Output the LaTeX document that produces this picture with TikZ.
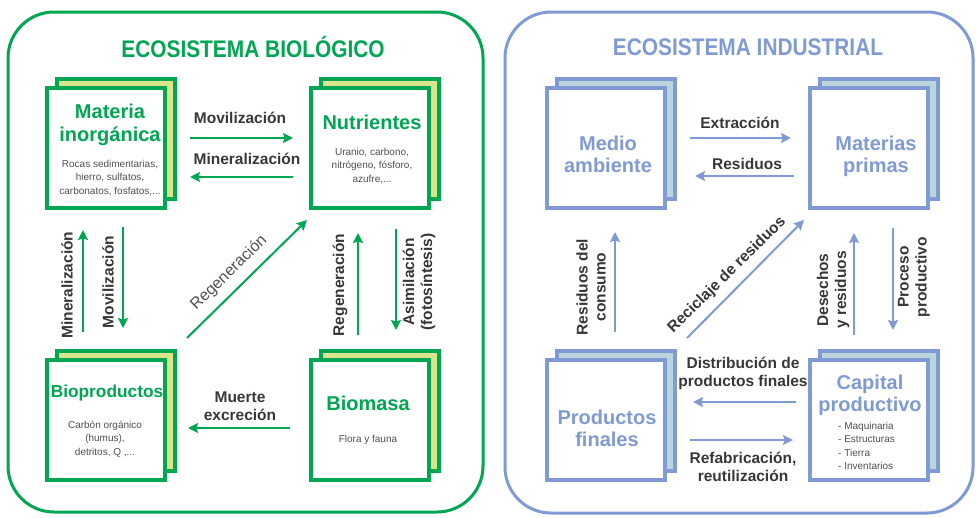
\documentclass[tikz,border=0pt]{standalone}
\usepackage{fontspec}
\setmainfont{Liberation Sans}
\newfontfamily\titlefont{Liberation Sans}[FakeStretch=0.87]
\usetikzlibrary{arrows.meta,calc,shadows}
\definecolor{gr}{RGB}{0,166,81}
\definecolor{gyel}{RGB}{220,228,139}
\definecolor{bl}{RGB}{128,154,211}
\definecolor{bback}{RGB}{188,212,219}
\definecolor{lbl}{RGB}{55,55,55}
\definecolor{sm}{RGB}{80,80,80}
\begin{document}
\begin{tikzpicture}[x=1pt,y=-1pt,
  gbox/.style={draw=gr,fill=white,line width=4pt,minimum width=118pt,minimum height=120pt,inner sep=0pt,
     copy shadow={shadow xshift=10pt,shadow yshift=9pt,fill=gyel,draw=gr,line width=4pt}},
  bbox/.style={draw=bl,fill=white,line width=4pt,minimum width=118pt,minimum height=120pt,inner sep=0pt,
     copy shadow={shadow xshift=10pt,shadow yshift=9pt,fill=bback,draw=bl,line width=4pt}},
  ghead/.style={font=\bfseries\fontsize{20}{23}\selectfont,text=gr,align=center,inner sep=0pt},
  bhead/.style={font=\bfseries\fontsize{20}{22}\selectfont,text=bl,align=center,inner sep=0pt},
  smalltxt/.style={font=\fontsize{10}{13.5}\selectfont,text=sm,align=center,inner sep=0pt},
  lab/.style={font=\bfseries\fontsize{15.5}{18}\selectfont,text=lbl,align=center,inner sep=0pt},
  garr/.style={draw=gr,line width=2pt,-{Stealth[length=10pt,width=10pt,inset=1.5pt]}},
  barr/.style={draw=bl,line width=2pt,-{Stealth[length=10pt,width=10pt,inset=1.5pt]}},
  titl/.style={font=\titlefont\bfseries\fontsize{24}{26}\selectfont,inner sep=0pt}
]
\useasboundingbox (0,0) rectangle (976,517);
% panels
\draw[gr,line width=3pt,rounded corners=46pt] (8,12) rectangle (483,512);
\draw[bl,line width=3pt,rounded corners=46pt] (505,12) rectangle (973,513);
\node[titl,text=gr] (t1) at (253,47) {ECOSISTEMA BIOLÓGICO};
\node[titl,text=bl] (t2) at (748,47) {ECOSISTEMA INDUSTRIAL};

% boxes
\node[gbox] (mi) at (106,148) {};
\node[gbox] (nu) at (370,148) {};
\node[gbox] (bp) at (106,420) {};
\node[gbox] (bm) at (370,420) {};
\node[bbox] (ma) at (606,148) {};
\node[bbox] (mp) at (869,148) {};
\node[bbox] (pf) at (606,420) {};
\node[bbox] (cp) at (869,420) {};

% box texts
\node[ghead] (mit) at (110,125) {Materia\\inorgánica};
\node[smalltxt] (mis) at (110,178) {Rocas sedimentarias,\\hierro, sulfatos,\\carbonatos, fosfatos,...};
\node[ghead] (nut) at (372,122) {Nutrientes};
\node[smalltxt] (nus) at (372,166) {Uranio, carbono,\\nitrógeno, fósforo,\\azufre,...};
\node[ghead,font=\bfseries\fontsize{17.3}{20}\selectfont] (bpt) at (107,393) {Bioproductos};
\node[smalltxt] (bps) at (105,439) {Carbón orgánico\\(humus),\\detritos, Q ,...};
\node[ghead] (bmt) at (368,403) {Biomasa};
\node[smalltxt] (bms) at (368,440) {Flora y fauna};

\node[bhead] (mat) at (608,154) {Medio\\ambiente};
\node[bhead] (mpt) at (876,156) {Materias\\primas};
\node[bhead] (pft) at (607,428) {Productos\\finales};
\node[bhead] (cpt) at (870,395) {Capital\\productivo};
\node[smalltxt,align=left,anchor=west] (cps) at (838,446) {- Maquinaria\\- Estructuras\\- Tierra\\- Inventarios};

% left panel arrows
\draw[garr] ($(mi.east)+(23,-10)$) -- ($(nu.west)+(-16,-10)$);
\draw[garr] ($(nu.west)+(-16,29)$) -- ($(mi.east)+(23,29)$);
\draw[garr] ($(bp.north)+(-23,-26)$) -- ($(mi.south)+(-23,20)$);
\draw[garr] ($(mi.south)+(17,17)$) -- ($(bp.north)+(17,-30)$);
\draw[garr] ($(bp.north east)+(20,-20)$) -- ($(nu.south west)+(-2,10)$);
\draw[garr] ($(bm.north)+(-12,-23)$) -- ($(nu.south)+(-12,23)$);
\draw[garr] ($(nu.south)+(26,19)$) -- ($(bm.north)+(26,-28)$);
\draw[garr] ($(bm.west)+(-19,8)$) -- ($(bp.east)+(21,8)$);

\node[lab] (l1) at (240,118) {Movilización};
\node[lab] (l2) at (247,159) {Mineralización};
\node[lab,rotate=90] (l3) at (67,285) {Mineralización};
\node[lab,rotate=90] (l4) at (108,282) {Movilización};
\node[lab,font=\fontsize{16}{18}\selectfont,text=sm,rotate=44.5] (l5) at (229,273) {Regeneración};
\node[lab,rotate=90] (l6) at (340,285) {Regeneración};
\node[lab,rotate=90] (l7) at (419,282) {Asimilación\\(fotosíntesis)};
\node[lab] (l8) at (240,406) {Muerte\\excreción};

% right panel arrows
\draw[barr] ($(ma.east)+(23,-10)$) -- ($(mp.west)+(-17,-10)$);
\draw[barr] ($(mp.west)+(-14,28)$) -- ($(ma.east)+(28,28)$);
\draw[barr] ($(pf.north)+(9,-26)$) -- ($(ma.south)+(9,22)$);
\draw[barr] ($(pf.north east)+(20,-20)$) -- ($(mp.south west)+(-4,10)$);
\draw[barr] ($(cp.north)+(-15,-23)$) -- ($(mp.south)+(-15,23)$);
\draw[barr] ($(mp.south)+(24,18)$) -- ($(cp.north)+(24,-28)$);
\draw[barr] ($(cp.west)+(-12,-18)$) -- ($(pf.east)+(26,-18)$);
\draw[barr] ($(pf.east)+(23,20)$) -- ($(cp.west)+(-15,20)$);

\node[lab] (r1) at (740,123) {Extracción};
\node[lab] (r2) at (747,164) {Residuos};
\node[lab,rotate=90] (r3) at (591,287) {Residuos del\\consumo};
\node[lab,rotate=44.5] (r4) at (727,275) {Reciclaje de residuos};
\node[lab,rotate=90] (r5) at (833,290) {Desechos\\y residuos};
\node[lab,rotate=90] (r6) at (914,277) {Proceso\\productivo};
\node[lab] (r7) at (743,373) {Distribución de\\productos finales};
\node[lab] (r8) at (743,467) {Refabricación,\\reutilización};
\end{tikzpicture}
\end{document}
